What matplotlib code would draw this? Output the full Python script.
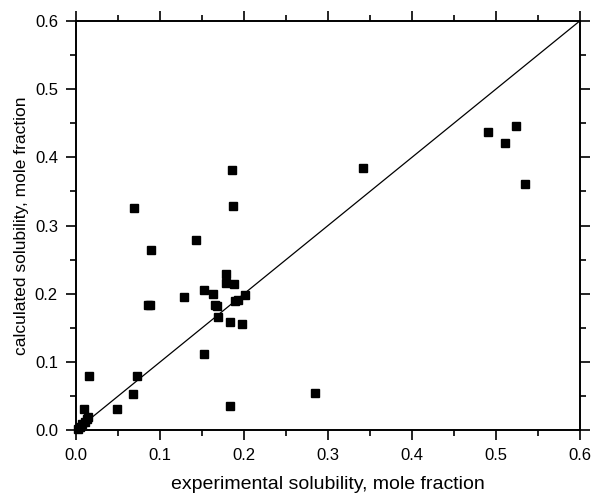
import matplotlib
matplotlib.use("Agg")
import matplotlib.pyplot as plt
from matplotlib.ticker import MultipleLocator

# experimental vs calculated solubility (mole fraction)
x_exp = [0.002, 0.0044, 0.0075, 0.0107, 0.013, 0.0147, 0.0095, 0.0155,
         0.0484, 0.068, 0.0722, 0.0687, 0.0857, 0.088, 0.089, 0.128,
         0.1433, 0.152, 0.152, 0.163, 0.165, 0.1675, 0.1694, 0.1786,
         0.1786, 0.183, 0.183, 0.1853, 0.1873, 0.188, 0.1897, 0.193,
         0.198, 0.2008, 0.285, 0.342, 0.491, 0.5104, 0.5243, 0.5345]
y_calc = [0.0024, 0.0054, 0.0093, 0.0127, 0.016, 0.019, 0.0308, 0.0797,
          0.0318, 0.0533, 0.0797, 0.325, 0.183, 0.183, 0.264, 0.196,
          0.2785, 0.206, 0.1125, 0.1996, 0.183, 0.182, 0.166, 0.229,
          0.2157, 0.158, 0.0352, 0.3815, 0.328, 0.214, 0.189, 0.191,
          0.156, 0.1986, 0.055, 0.384, 0.4366, 0.4205, 0.4463, 0.3605]
diag = [0.0, 0.6]

plt.rcParams['font.family'] = ['Liberation Sans', 'DejaVu Sans']

fig = plt.figure(figsize=(5.97, 4.95), dpi=100)
ax = fig.add_axes([0.1273, 0.1307, 0.8442, 0.8273])

ax.plot(diag, diag, color='black', lw=0.9)
ax.plot(x_exp, y_calc, 's', color='black', ms=5.3, clip_on=False)

ax.set_xlim(0, 0.6)
ax.set_ylim(0, 0.6)
ax.xaxis.set_major_locator(MultipleLocator(0.1))
ax.yaxis.set_major_locator(MultipleLocator(0.1))
ax.xaxis.set_minor_locator(MultipleLocator(0.05))
ax.yaxis.set_minor_locator(MultipleLocator(0.05))
ax.xaxis.set_major_formatter(lambda v, p: f"{v:.1f}")
ax.yaxis.set_major_formatter(lambda v, p: f"{v:.1f}")

ax.tick_params(which='both', direction='out', top=True, right=True,
               labelsize=12, width=1.2, pad=6)
ax.tick_params(which='major', length=7)
ax.tick_params(which='minor', length=4)
for s in ax.spines.values():
    s.set_linewidth(1.4)

ax.set_xlabel("experimental solubility, mole fraction", fontsize=14, labelpad=9)
ax.set_ylabel("calculated solubility, mole fraction", fontsize=12.5, labelpad=4)

fig.savefig("out.png", dpi=100)
